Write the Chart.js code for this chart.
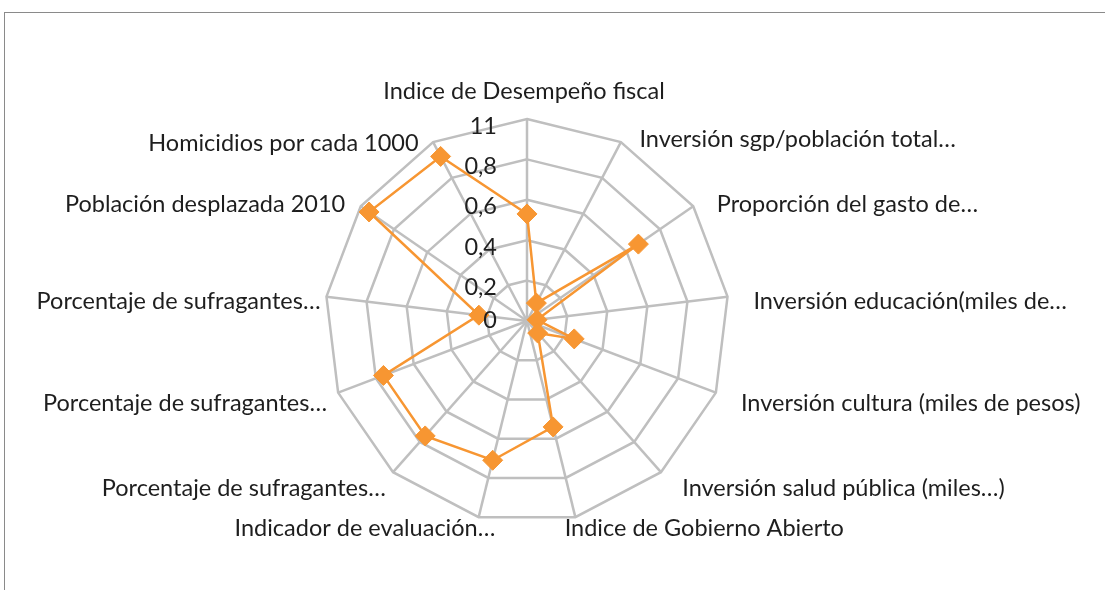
<!DOCTYPE html>
<html>
<head>
<meta charset="utf-8">
<script src="https://cdn.jsdelivr.net/npm/chart.js@4.4.0/dist/chart.umd.min.js"></script>
<style>
  html, body { margin:0; padding:0; background:#fff; overflow:hidden; }
  #wrap { position:relative; width:1105px; height:590px; }
  #frame { position:absolute; left:4px; top:12px; width:1120px; height:600px;
           border-left:1px solid #8a8a8a; border-top:1px solid #8a8a8a; pointer-events:none; }
</style>
</head>
<body>
<div id="wrap">
  <canvas id="radar" width="1105" height="590"></canvas>
  <div id="frame"></div>
</div>
<script>
const categories = [
  'Indice de Desempeño fiscal',
  'Inversión sgp/población total…',
  'Proporción del gasto de…',
  'Inversión educación(miles de…',
  'Inversión cultura (miles de pesos)',
  'Inversión salud pública (miles…)',
  'Indice de Gobierno Abierto',
  'Indicador de evaluación…',
  'Porcentaje de sufragantes…',
  'Porcentaje de sufragantes…',
  'Porcentaje de sufragantes…',
  'Población desplazada 2010',
  'Homicidios por cada 1000'
];
const values = [0.53, 0.10, 0.67, 0.05, 0.25, 0.08, 0.54, 0.71, 0.76, 0.76, 0.24, 0.95, 0.92];
const tickValues = [0, 0.2, 0.4, 0.6, 0.8, 1];
const tickLabels = ['0', '0,2', '0,4', '0,6', '0,8', '11'];

const orange = '#F79632';
const gridGray = '#bfbfbf';
const textColor = '#1e1e1e';
const fontFamily = 'Lato, "Open Sans", sans-serif';

// axis names and tick numbers are placed by hand, Excel style
const labelPlugin = {
  id: 'axisLabels',
  afterDatasetsDraw(chart){
    const s = chart.scales.r;
    const ctx = chart.ctx;
    ctx.save();
    ctx.fillStyle = textColor;
    ctx.textBaseline = 'middle';
    ctx.font = `23.5px ${fontFamily}`;
    categories.forEach((text, i) => {
      const deg = s.getIndexAngle(i) * 180 / Math.PI;
      const p = s.getPointPosition(i, s.drawingArea + 14);
      let x = p.x, y = p.y + 6;
      if (deg < 1){ ctx.textAlign = 'center'; x -= 3; y = p.y - 14; }
      else if (deg > 150 && deg < 180){ ctx.textAlign = 'left'; x -= 14; y = p.y - 2; }
      else if (deg >= 180 && deg < 210){ ctx.textAlign = 'right'; x += 20; y = p.y - 2; }
      else if (deg < 180){ ctx.textAlign = 'left'; x += 12; if (deg < 45) y += 4; }
      else {
        ctx.textAlign = 'right'; x += 2;
        if (deg > 320){ x -= 10; y += 8; }
        else if (deg > 290){ x -= 6; }
        else if (deg > 260){ x += 6; }
      }
      ctx.fillText(text, x, y);
    });

    ctx.textAlign = 'right';
    tickValues.forEach((v, i) => {
      const d = s.getDistanceFromCenterForValue(v);
      ctx.fillText(tickLabels[i], s.xCenter - 30, s.yCenter - d + (v ? 7 : -1));
    });
    ctx.restore();
  }
};

new Chart(document.getElementById('radar').getContext('2d'), {
  type: 'radar',
  data: {
    labels: categories,
    datasets: [{
      data: values,
      borderColor: orange,
      backgroundColor: 'transparent',
      borderWidth: 2.5,
      pointStyle: 'rectRot',
      pointRadius: 10,
      pointBackgroundColor: orange,
      pointBorderColor: orange,
      pointBorderWidth: 1,
      fill: false,
      tension: 0
    }]
  },
  options: {
    responsive: false,
    animation: false,
    devicePixelRatio: 1,
    layout: { padding: { top: 119, bottom: 67, left: 227, right: 278 } },
    plugins: { legend: { display: false }, tooltip: { enabled: false } },
    scales: {
      r: {
        min: 0,
        max: 1,
        ticks: { stepSize: 0.2, display: false },
        grid: { color: gridGray, lineWidth: 2.5, circular: false },
        angleLines: { color: gridGray, lineWidth: 2.5 },
        pointLabels: { display: false }
      }
    }
  },
  plugins: [labelPlugin]
});
</script>
</body>
</html>
